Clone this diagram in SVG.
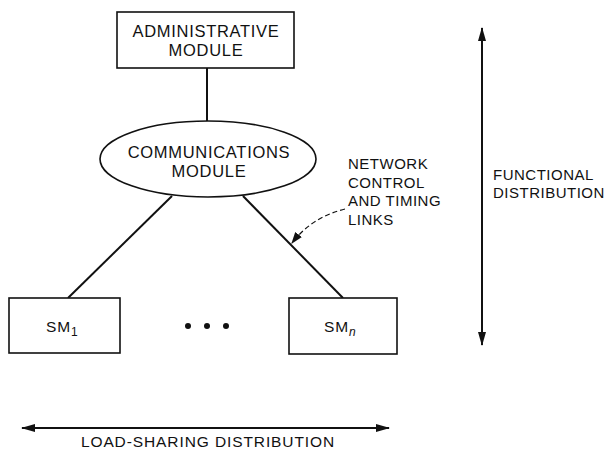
<svg xmlns="http://www.w3.org/2000/svg" width="612" height="450" viewBox="0 0 612 450">
<style>
text{font-family:"Liberation Sans",Arial,sans-serif;fill:#111;}
.big{font-size:16.5px;letter-spacing:0.7px;text-anchor:middle;}
.lbl{font-size:15px;letter-spacing:0.5px;}
.wide{font-size:15.5px;letter-spacing:0.9px;}
.box{fill:#fff;stroke:#111;stroke-width:1.6;}
.ln{stroke:#111;stroke-width:2;fill:none;}
</style>
<defs>
<marker id="ah" viewBox="0 0 14 10" refX="13" refY="5" markerWidth="14" markerHeight="10" markerUnits="userSpaceOnUse" orient="auto-start-reverse"><path d="M0,1 L14,5 L0,9 Z" fill="#111"/></marker>
<marker id="ah2" viewBox="0 0 10 10" refX="9" refY="5" markerWidth="12" markerHeight="12" markerUnits="userSpaceOnUse" orient="auto"><path d="M0,1.5 L10,5 L0,8.5 Z" fill="#111"/></marker>
</defs>
<g id="connectors">
<line class="ln" x1="207" y1="68" x2="207" y2="122"/>
<line class="ln" x1="172" y1="196" x2="68" y2="298"/>
<line class="ln" x1="243" y1="196" x2="343" y2="298"/>
<path d="M345,209 Q312,217 292,243" fill="none" stroke="#111" stroke-width="1.2" stroke-dasharray="5,3" marker-end="url(#ah2)"/>
</g>
<g id="admin">
<rect class="box" x="117" y="12" width="177" height="56"/>
<text class="big" x="206" y="37">ADMINISTRATIVE</text>
<text class="big" x="206" y="56">MODULE</text>
</g>
<g id="comm">
<ellipse class="box" cx="208" cy="159" rx="108" ry="38"/>
<text class="big" x="209" y="158">COMMUNICATIONS</text>
<text class="big" x="209" y="177">MODULE</text>
</g>
<g id="sm1">
<rect class="box" x="9" y="298" width="111" height="55"/>
<text class="wide" x="46" y="332">SM<tspan font-size="12" dy="4">1</tspan></text>
</g>
<g id="smn">
<rect class="box" x="289" y="298" width="108" height="56"/>
<text class="wide" x="324" y="332">SM<tspan font-size="12" dy="4" font-style="italic">n</tspan></text>
</g>
<g id="dots" fill="#111">
<circle cx="188" cy="326" r="3"/>
<circle cx="207" cy="326" r="3"/>
<circle cx="226" cy="326" r="3"/>
</g>
<g id="network-label">
<text class="lbl" x="348" y="169">NETWORK</text>
<text class="lbl" x="348" y="188">CONTROL</text>
<text class="lbl" x="348" y="206">AND TIMING</text>
<text class="lbl" x="348" y="225">LINKS</text>
</g>
<g id="functional">
<line class="ln" x1="482" y1="28" x2="482" y2="345" marker-start="url(#ah)" marker-end="url(#ah)"/>
<text class="lbl" x="493" y="180">FUNCTIONAL</text>
<text class="lbl" x="493" y="198">DISTRIBUTION</text>
</g>
<g id="loadsharing">
<line class="ln" x1="22" y1="428" x2="389" y2="428" marker-start="url(#ah)" marker-end="url(#ah)"/>
<text class="wide" x="208" y="447" text-anchor="middle">LOAD-SHARING DISTRIBUTION</text>
</g>
</svg>
